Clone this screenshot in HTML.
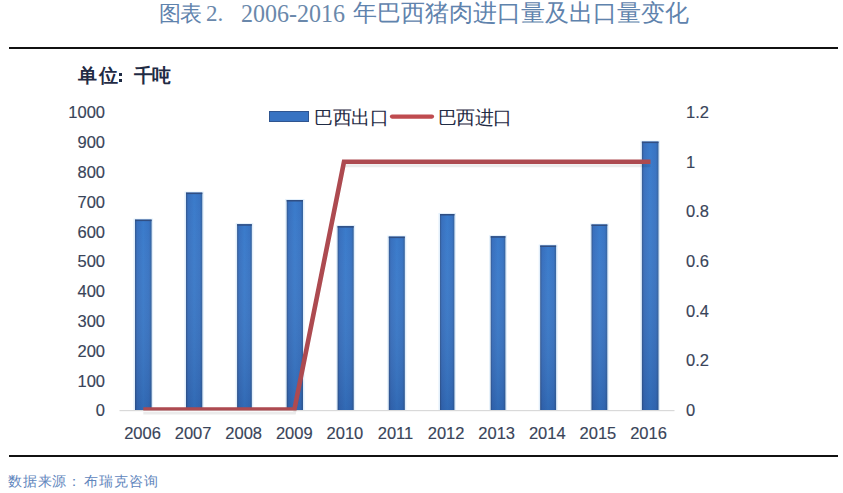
<!DOCTYPE html><html><head><meta charset="utf-8"><style>
html,body{margin:0;padding:0;background:#fff;}
body{width:843px;height:493px;position:relative;overflow:hidden;font-family:"Liberation Sans",sans-serif;}
.t{position:absolute;white-space:nowrap;line-height:1;}
.yl{color:#39445a;-webkit-text-stroke:0.15px #384050;font-size:16.5px;text-align:right;width:60px;}
.yr{color:#39445a;-webkit-text-stroke:0.15px #384050;font-size:16.5px;}
.xl{color:#39445a;-webkit-text-stroke:0.15px #384050;font-size:16.5px;text-align:center;width:50px;}
</style></head><body>
<svg width="843" height="493" style="position:absolute;left:0;top:0">
<defs><linearGradient id="bg" x1="0" x2="1" y1="0" y2="0"><stop offset="0" stop-color="#31558c"/><stop offset="0.12" stop-color="#386fbd"/><stop offset="0.5" stop-color="#3a7bcb"/><stop offset="0.85" stop-color="#3873c2"/><stop offset="1" stop-color="#33609a"/></linearGradient><linearGradient id="vg" x1="0" x2="0" y1="0" y2="1"><stop offset="0" stop-color="#fff" stop-opacity="0"/><stop offset="1" stop-color="#001040" stop-opacity="0.16"/></linearGradient></defs>
<rect x="9" y="47" width="829" height="2" fill="#111"/>
<rect x="9" y="455" width="829" height="2" fill="#111"/>
<rect x="119.5" y="410" width="555" height="1.2" fill="#d9d9d9"/>
<rect x="133.5" y="218.6" width="19.599999999999994" height="191.4" fill="#e2effb"/>
<rect x="135" y="219.6" width="16.599999999999994" height="190.4" fill="url(#bg)"/>
<rect x="135" y="219.6" width="16.599999999999994" height="190.4" fill="url(#vg)"/>
<rect x="135" y="219.6" width="16.599999999999994" height="1.5" fill="#304e82"/>
<rect x="184.5" y="191.6" width="19.30000000000001" height="218.4" fill="#e2effb"/>
<rect x="186" y="192.6" width="16.30000000000001" height="217.4" fill="url(#bg)"/>
<rect x="186" y="192.6" width="16.30000000000001" height="217.4" fill="url(#vg)"/>
<rect x="186" y="192.6" width="16.30000000000001" height="1.5" fill="#304e82"/>
<rect x="235.6" y="223.2" width="17.700000000000017" height="186.8" fill="#e2effb"/>
<rect x="237.1" y="224.2" width="14.700000000000017" height="185.8" fill="url(#bg)"/>
<rect x="237.1" y="224.2" width="14.700000000000017" height="185.8" fill="url(#vg)"/>
<rect x="237.1" y="224.2" width="14.700000000000017" height="1.5" fill="#304e82"/>
<rect x="285.2" y="199" width="19.30000000000001" height="211" fill="#e2effb"/>
<rect x="286.7" y="200" width="16.30000000000001" height="210" fill="url(#bg)"/>
<rect x="286.7" y="200" width="16.30000000000001" height="210" fill="url(#vg)"/>
<rect x="286.7" y="200" width="16.30000000000001" height="1.5" fill="#304e82"/>
<rect x="336.1" y="225.1" width="19.099999999999966" height="184.9" fill="#e2effb"/>
<rect x="337.6" y="226.1" width="16.099999999999966" height="183.9" fill="url(#bg)"/>
<rect x="337.6" y="226.1" width="16.099999999999966" height="183.9" fill="url(#vg)"/>
<rect x="337.6" y="226.1" width="16.099999999999966" height="1.5" fill="#304e82"/>
<rect x="387.3" y="235.6" width="19.0" height="174.4" fill="#e2effb"/>
<rect x="388.8" y="236.6" width="16.0" height="173.4" fill="url(#bg)"/>
<rect x="388.8" y="236.6" width="16.0" height="173.4" fill="url(#vg)"/>
<rect x="388.8" y="236.6" width="16.0" height="1.5" fill="#304e82"/>
<rect x="438.5" y="213" width="17.399999999999977" height="197" fill="#e2effb"/>
<rect x="440" y="214" width="14.399999999999977" height="196" fill="url(#bg)"/>
<rect x="440" y="214" width="14.399999999999977" height="196" fill="url(#vg)"/>
<rect x="440" y="214" width="14.399999999999977" height="1.5" fill="#304e82"/>
<rect x="489.2" y="235.2" width="17.69999999999999" height="174.8" fill="#e2effb"/>
<rect x="490.7" y="236.2" width="14.699999999999989" height="173.8" fill="url(#bg)"/>
<rect x="490.7" y="236.2" width="14.699999999999989" height="173.8" fill="url(#vg)"/>
<rect x="490.7" y="236.2" width="14.699999999999989" height="1.5" fill="#304e82"/>
<rect x="538.7" y="244.5" width="18.899999999999977" height="165.5" fill="#e2effb"/>
<rect x="540.2" y="245.5" width="15.899999999999977" height="164.5" fill="url(#bg)"/>
<rect x="540.2" y="245.5" width="15.899999999999977" height="164.5" fill="url(#vg)"/>
<rect x="540.2" y="245.5" width="15.899999999999977" height="1.5" fill="#304e82"/>
<rect x="590.0" y="223.5" width="18.799999999999955" height="186.5" fill="#e2effb"/>
<rect x="591.5" y="224.5" width="15.799999999999955" height="185.5" fill="url(#bg)"/>
<rect x="591.5" y="224.5" width="15.799999999999955" height="185.5" fill="url(#vg)"/>
<rect x="591.5" y="224.5" width="15.799999999999955" height="1.5" fill="#304e82"/>
<rect x="640.4" y="140.6" width="19.600000000000023" height="269.4" fill="#e2effb"/>
<rect x="641.9" y="141.6" width="16.600000000000023" height="268.4" fill="url(#bg)"/>
<rect x="641.9" y="141.6" width="16.600000000000023" height="268.4" fill="url(#vg)"/>
<rect x="641.9" y="141.6" width="16.600000000000023" height="1.5" fill="#304e82"/>
<clipPath id="pc"><rect x="100" y="100" width="600" height="310.6"/></clipPath>
<path d="M143.3,409.5 L194.2,409.5 L244.4,409.5 L294.4,409.5 L344.0,161.8 L396.8,161.8 L447.2,161.8 L498.0,161.8 L548.2,161.8 L599.4,161.8 L650.5,161.8" transform="translate(0,4)" fill="none" stroke="#000" stroke-opacity="0.08" stroke-width="3" clip-path="url(#pc)"/>
<path d="M143.3,409.5 L194.2,409.5 L244.4,409.5 L294.4,409.5 L344.0,161.8 L396.8,161.8 L447.2,161.8 L498.0,161.8 L548.2,161.8 L599.4,161.8 L650.5,161.8" fill="none" stroke="#ad4a50" stroke-width="4.6" stroke-linejoin="miter" clip-path="url(#pc)"/>
<rect x="269.5" y="111.5" width="39" height="10" fill="#3873c2" stroke="#2f5590" stroke-width="1"/>
<line x1="392" y1="116.6" x2="432" y2="116.6" stroke="#bf4b4f" stroke-width="4.2" stroke-linecap="round"/>
</svg>
<div class="t" style="left:158.5px;top:3px;font-size:22px;color:#5f83ad;letter-spacing:-0.3px">图表</div>
<div class="t" style="left:206px;top:2px;font-size:23px;color:#5f83ad;color:#6a88ab;font-family:'Liberation Serif',serif;transform:scaleY(1.04);transform-origin:0 19px">2.</div>
<div class="t" style="left:241px;top:2px;font-size:24px;color:#5f83ad;color:#6a88ab;font-family:'Liberation Serif',serif;transform:scaleY(1.04);transform-origin:0 19.5px">2006-2016</div>
<div class="t" style="left:353px;top:1px;font-size:24px;color:#5f83ad;">年巴西猪肉进口量及出口量变化</div>
<div class="t" style="left:78px;top:66.8px;font-size:18.5px;font-weight:bold;color:#1f2b44;letter-spacing:1.5px">单位</div>
<div class="t" style="left:133.5px;top:66.8px;font-size:18.5px;font-weight:bold;color:#1f2b44;letter-spacing:-0.3px;">千吨</div>
<div style="position:absolute;left:119px;top:72.5px;width:3px;height:3px;background:#1f2b44"></div>
<div style="position:absolute;left:119px;top:79px;width:3px;height:3px;background:#1f2b44"></div>
<div class="t yl" style="left:45px;top:104.3px">1000</div>
<div class="t yl" style="left:45px;top:134.1px">900</div>
<div class="t yl" style="left:45px;top:163.9px">800</div>
<div class="t yl" style="left:45px;top:193.7px">700</div>
<div class="t yl" style="left:45px;top:223.5px">600</div>
<div class="t yl" style="left:45px;top:253.3px">500</div>
<div class="t yl" style="left:45px;top:283.1px">400</div>
<div class="t yl" style="left:45px;top:312.9px">300</div>
<div class="t yl" style="left:45px;top:342.7px">200</div>
<div class="t yl" style="left:45px;top:372.5px">100</div>
<div class="t yl" style="left:45px;top:402.3px">0</div>
<div class="t yr" style="left:686px;top:104.0px">1.2</div>
<div class="t yr" style="left:686px;top:153.7px">1</div>
<div class="t yr" style="left:686px;top:203.3px">0.8</div>
<div class="t yr" style="left:686px;top:253.0px">0.6</div>
<div class="t yr" style="left:686px;top:302.7px">0.4</div>
<div class="t yr" style="left:686px;top:352.4px">0.2</div>
<div class="t yr" style="left:686px;top:402.0px">0</div>
<div class="t xl" style="left:117.5px;top:424.7px">2006</div>
<div class="t xl" style="left:168.1px;top:424.7px">2007</div>
<div class="t xl" style="left:218.7px;top:424.7px">2008</div>
<div class="t xl" style="left:269.3px;top:424.7px">2009</div>
<div class="t xl" style="left:319.9px;top:424.7px">2010</div>
<div class="t xl" style="left:370.5px;top:424.7px">2011</div>
<div class="t xl" style="left:421.1px;top:424.7px">2012</div>
<div class="t xl" style="left:471.7px;top:424.7px">2013</div>
<div class="t xl" style="left:522.3px;top:424.7px">2014</div>
<div class="t xl" style="left:572.9px;top:424.7px">2015</div>
<div class="t xl" style="left:623.5px;top:424.7px">2016</div>
<div class="t" style="left:314px;top:109.3px;font-size:18.5px;font-weight:500;letter-spacing:-0.5px;color:#1f2b44;">巴西出口</div>
<div class="t" style="left:437.5px;top:109.3px;font-size:18.5px;font-weight:500;letter-spacing:-0.5px;color:#1f2b44;">巴西进口</div>
<div class="t" style="left:8px;top:474px;font-size:14px;letter-spacing:0.8px;font-weight:300;color:#5f86bd;">数据来源：</div>
<div class="t" style="left:84px;top:474px;font-size:14px;letter-spacing:0.9px;font-weight:300;color:#5f86bd;">布瑞克咨询</div>
</body></html>
